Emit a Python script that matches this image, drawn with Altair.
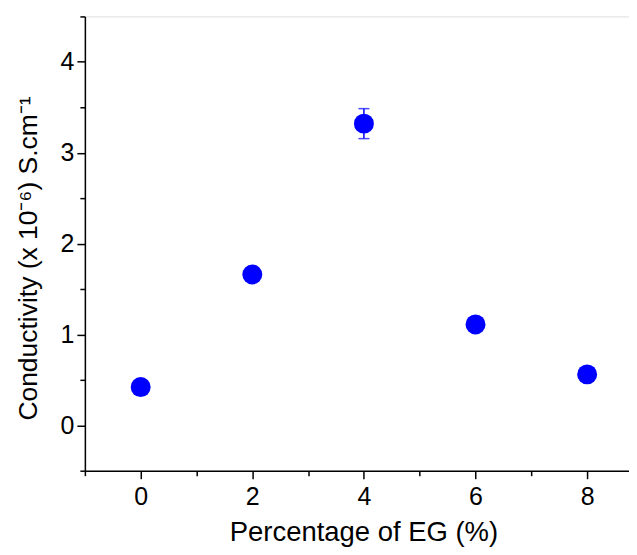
import altair as alt
import pandas as pd

pct = [0, 2, 4, 6, 8]
cond = [0.42, 1.66, 3.32, 1.11, 0.56]
err = [0.0, 0.0, 0.165, 0.0, 0.0]

df = pd.DataFrame({"pct": pct, "cond": cond, "err": err})
df["lo"] = df["cond"] - df["err"]
df["hi"] = df["cond"] + df["err"]
dfe = df[df["err"] > 0]

FONT = "Liberation Sans"
BLUE = "#0000FF"

xscale = alt.Scale(domain=[-1, 8.75], nice=False, zero=False)
yscale = alt.Scale(domain=[-0.5, 4.5], nice=False, zero=False)

x_major = alt.Axis(values=[0, 2, 4, 6, 8], tickSize=8, tickWidth=1.5, domainWidth=1.5,
                   domainColor="black", tickColor="black", labelFont=FONT, labelFontSize=25,
                   labelColor="black", labelPadding=6, title="Percentage of EG (%)",
                   titleFont=FONT, titleFontSize=27.5, titleFontWeight="normal",
                   titleColor="black", titlePadding=9, titleX=279, grid=False,
                   orient="bottom", labelFlush=False)
y_major = alt.Axis(values=[0, 1, 2, 3, 4], tickSize=8, tickWidth=1.5, domainWidth=1.5,
                   domainColor="black", tickColor="black", labelFont=FONT, labelFontSize=25,
                   labelColor="black", labelPadding=3,
                   title="Conductivity (x 10⁻⁶) S.cm⁻¹",
                   titleFont=FONT, titleFontSize=26.5, titleFontWeight="normal",
                   titleColor="black", titleX=-42, titleY=242, titleBaseline="bottom",
                   titleAngle=270, titleAlign="center", grid=False, orient="left",
                   labelFlush=False)
x_minor = alt.Axis(values=[-1, 1, 3, 5, 7], tickSize=5, tickWidth=1.5, domain=False,
                   tickColor="black", labels=False, title=None, grid=False, orient="bottom")
y_minor = alt.Axis(values=[-0.5, 0.5, 1.5, 2.5, 3.5, 4.5], tickSize=5, tickWidth=1.5,
                   domain=False, tickColor="black", labels=False, title=None, grid=False,
                   orient="left")

base = alt.Chart(df)

points = base.mark_circle(size=400, color=BLUE, opacity=1).encode(
    x=alt.X("pct:Q", scale=xscale, axis=x_major),
    y=alt.Y("cond:Q", scale=yscale, axis=y_major),
)

minor = base.mark_point(opacity=0).encode(
    x=alt.X("pct:Q", scale=xscale, axis=x_minor),
    y=alt.Y("cond:Q", scale=yscale, axis=y_minor),
)

ebar = alt.Chart(dfe).mark_rule(color=BLUE, strokeWidth=1.5).encode(
    x=alt.X("pct:Q", scale=xscale, axis=None),
    y=alt.Y("lo:Q", scale=yscale, axis=None),
    y2="hi:Q",
)
cap_lo = alt.Chart(dfe).mark_tick(color=BLUE, size=11, thickness=1.5, orient="horizontal").encode(
    x=alt.X("pct:Q", scale=xscale, axis=None),
    y=alt.Y("lo:Q", scale=yscale, axis=None),
)
cap_hi = alt.Chart(dfe).mark_tick(color=BLUE, size=11, thickness=1.5, orient="horizontal").encode(
    x=alt.X("pct:Q", scale=xscale, axis=None),
    y=alt.Y("hi:Q", scale=yscale, axis=None),
)

chart = alt.layer(minor, ebar, cap_lo, cap_hi, points).resolve_axis(
    x="independent", y="independent"
).properties(
    width=545, height=455,
    autosize=alt.AutoSizeParams(type="none"),
    padding={"left": 77, "top": 8, "right": 0, "bottom": 76},
).configure_view(stroke=None).configure(background="white")

chart.save("out.html", embed_options={"renderer": "svg", "actions": False})
